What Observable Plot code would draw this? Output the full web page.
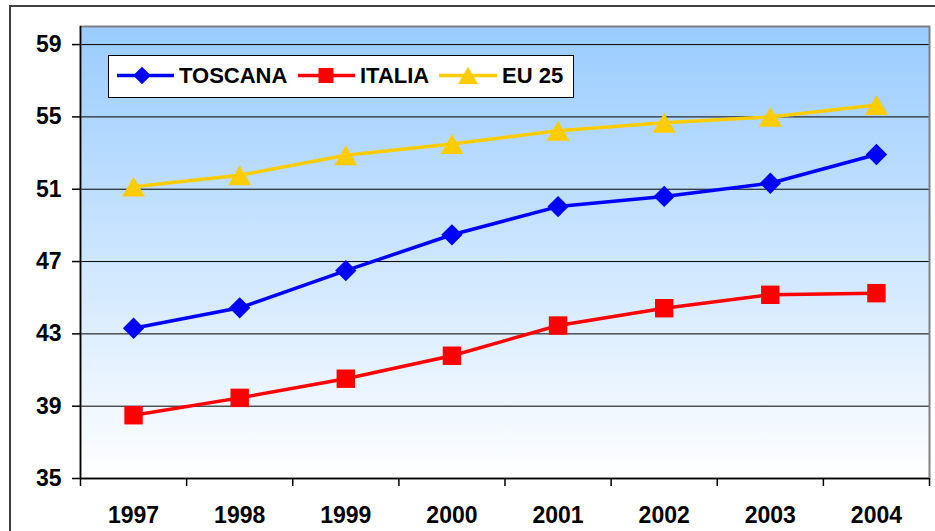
<!DOCTYPE html>
<html><head><meta charset="utf-8">
<script src="https://cdn.jsdelivr.net/npm/d3@7"></script>
<script src="https://cdn.jsdelivr.net/npm/@observablehq/plot@0.6"></script>
<style>
body{margin:0;background:#fff}
#chart{position:relative;width:935px;height:531px;overflow:hidden}
</style>
</head><body><div id="chart"></div>
<script>
// ---- data ----
const years = [1997, 1998, 1999, 2000, 2001, 2002, 2003, 2004];
const toscana = [43.31, 44.44, 46.5, 48.48, 50.04, 50.6, 51.33, 52.92];
const italia = [38.5, 39.46, 40.52, 41.79, 43.46, 44.42, 45.16, 45.25];
const eu25 = [51.14, 51.77, 52.88, 53.5, 54.23, 54.67, 55.0, 55.66];
const seriesNames = ["TOSCANA", "ITALIA", "EU 25"];
const seriesColors = ["#0000FF", "#FF0000", "#FFCC00"];
const seriesSymbols = ["diamond2", "square", "triangle"];
const yTicks = [35, 39, 43, 47, 51, 55, 59];

const rows = [];
[toscana, italia, eu25].forEach((vals, s) =>
  vals.forEach((v, i) => rows.push({year: years[i], value: v, series: seriesNames[s]})));

const font = "'Liberation Sans', Arial, sans-serif";
const bounds = d3.range(years[0] - 0.5, years[years.length - 1] + 1, 1);
const markerR = {"TOSCANA": 9.6, "ITALIA": 10.4, "EU 25": 8.5};
const markerDy = {"TOSCANA": 0, "ITALIA": 0, "EU 25": 3.3};

const plot = Plot.plot({
  width: 935, height: 531,
  marginLeft: 80, marginRight: 6, marginTop: 26, marginBottom: 53,
  style: {fontFamily: font, fontWeight: "bold", fontSize: "23px", color: "#000", background: "#fff", overflow: "visible"},
  x: {type: "linear", domain: [bounds[0], bounds[bounds.length - 1]], label: null},
  y: {domain: [35, 60], label: null},
  marks: [
    Plot.frame({fill: "url(#plotBg)"}),
    Plot.gridY(yTicks, {stroke: "#000", strokeOpacity: 1, strokeWidth: 1}),
    Plot.frame({stroke: "#808080", strokeWidth: 2}),
    Plot.ruleX([bounds[0]], {stroke: "#000", strokeWidth: 1.5}),
    Plot.ruleY([35], {stroke: "#000", strokeWidth: 1.5}),
    Plot.axisY(yTicks, {tickSize: 8, tickPadding: 11, label: null, stroke: "#000", strokeWidth: 1.5, fontSize: 23}),
    Plot.axisX(bounds, {tickSize: 8, tickFormat: () => "", label: null, stroke: "#000", strokeWidth: 1.5}),
    Plot.axisX(years, {tickSize: 0, tickPadding: 28, tickFormat: d => String(d), label: null, fontSize: 23}),
    ...seriesNames.map((name, s) =>
      Plot.line(rows.filter(d => d.series === name), {x: "year", y: "value", stroke: seriesColors[s], strokeWidth: 3.5})),
    ...seriesNames.map((name, s) =>
      Plot.dot(rows.filter(d => d.series === name), {x: "year", y: "value", symbol: seriesSymbols[s], fill: seriesColors[s], stroke: "none", r: markerR[name], dy: markerDy[name]}))
  ]
});

const svg = d3.select(plot);
const defs = svg.insert("defs", ":first-child");
const grad = defs.append("linearGradient").attr("id", "plotBg").attr("x1", 0).attr("y1", 0).attr("x2", 0).attr("y2", 1);
grad.append("stop").attr("offset", "0%").attr("stop-color", "#99CCFF");
grad.append("stop").attr("offset", "100%").attr("stop-color", "#FFFFFF");

// outer chart frame
svg.append("rect").attr("x", 10).attr("y", 6).attr("width", 1000).attr("height", 1000)
  .attr("fill", "none").attr("stroke", "#404040").attr("stroke-width", 2);

// legend
const lg = svg.append("g").attr("text-anchor", "start");
lg.append("rect").attr("x", 108.5).attr("y", 55.5).attr("width", 465).attr("height", 42)
  .attr("fill", "#fff").attr("stroke", "#000").attr("stroke-width", 1);
const legendItems = [
  {x0: 117, x1: 174, mx: 142, tx: 179, sym: d3.symbolDiamond2, size: 200, dy: 0},
  {x0: 298, x1: 355, mx: 326, tx: 360, sym: d3.symbolSquare, size: 225, dy: 0},
  {x0: 439, x1: 497, mx: 468, tx: 502, sym: d3.symbolTriangle, size: 170, dy: 2.8}
];
const ly = 75.5;
legendItems.forEach((it, s) => {
  lg.append("line").attr("x1", it.x0).attr("x2", it.x1).attr("y1", ly).attr("y2", ly)
    .attr("stroke", seriesColors[s]).attr("stroke-width", 3.5);
  lg.append("path").attr("d", d3.symbol(it.sym, it.size)())
    .attr("transform", `translate(${it.mx},${ly + it.dy})`).attr("fill", seriesColors[s]);
  lg.append("text").attr("x", it.tx).attr("y", 83.3).text(seriesNames[s])
    .attr("text-anchor", "start")
    .attr("font-family", font).attr("font-weight", "bold").attr("font-size", "22px").attr("fill", "#000");
});

document.getElementById("chart").appendChild(plot);
</script>
</body></html>
